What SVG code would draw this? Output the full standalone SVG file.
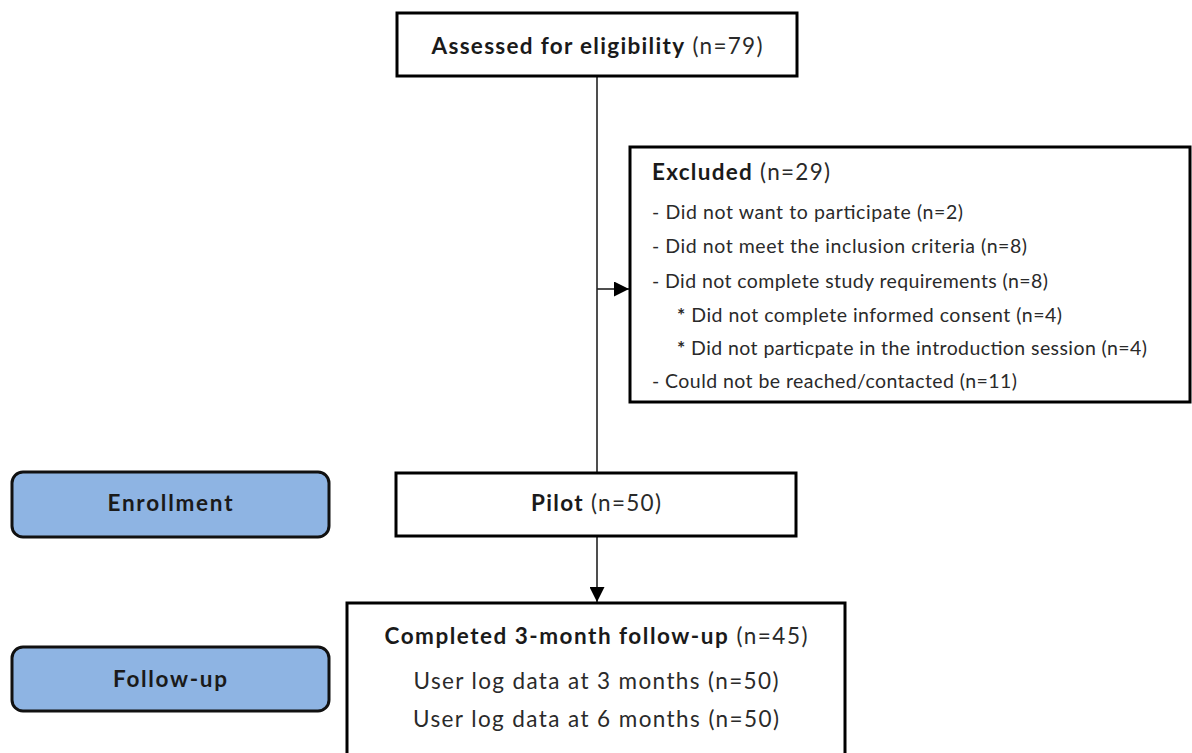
<svg xmlns="http://www.w3.org/2000/svg" width="1192" height="753" viewBox="0 0 1192 753">
<style>
.box{fill:#fff;stroke:#000;stroke-width:3}
.stage{fill:#8eb4e3;stroke:#111;stroke-width:3}
.t{font-family:Lato,"Open Sans","Liberation Sans",sans-serif;fill:#1a1a1a}
.b{font-weight:bold}
.n{fill:#2a2a2a}
.c{text-anchor:middle}
.i{font-size:19.5px}
.conn{stroke:#222;stroke-width:1.6;fill:none}
</style>
<defs>
<marker id="ah2" viewBox="0 0 10 10" refX="10" refY="5" markerWidth="15" markerHeight="15" markerUnits="userSpaceOnUse" orient="auto">
<path d="M0,0 L10,5 L0,10 z" fill="#000"/>
</marker>
</defs>
<g id="connectors">
<line class="conn" x1="597" y1="76" x2="597" y2="473"/>
<line class="conn" x1="597" y1="289" x2="629" y2="289" marker-end="url(#ah2)"/>
<line class="conn" x1="597" y1="536" x2="597" y2="602" marker-end="url(#ah2)"/>
</g>
<g id="assessed">
<rect class="box" x="397" y="13" width="400" height="63"/>
<text class="t c" x="597" y="54" font-size="22.5" textLength="331"><tspan class="b">Assessed for eligibility</tspan> <tspan class="n">(n=79)</tspan></text>
</g>
<g id="excluded">
<rect class="box" x="630" y="147" width="560" height="255"/>
<text class="t" x="652" y="180" font-size="22.5" textLength="178"><tspan class="b">Excluded</tspan> <tspan class="n">(n=29)</tspan></text>
<text class="t n i" x="652" y="219" textLength="311">- Did not want to participate (n=2)</text>
<text class="t n i" x="652" y="253" textLength="375">- Did not meet the inclusion criteria (n=8)</text>
<text class="t n i" x="652" y="288" textLength="396">- Did not complete study requirements (n=8)</text>
<text class="t n i" x="677" y="322" textLength="385"><tspan class="b">*</tspan> Did not complete informed consent (n=4)</text>
<text class="t n i" x="677" y="355" textLength="470"><tspan class="b">*</tspan> Did not particpate in the introduction session (n=4)</text>
<text class="t n i" x="652" y="388" textLength="365">- Could not be reached/contacted (n=11)</text>
</g>
<g id="enrollment">
<rect class="stage" x="12" y="472" width="317" height="65" rx="11"/>
<text class="t b c" x="170" y="511" font-size="22.5" textLength="125">Enrollment</text>
</g>
<g id="pilot">
<rect class="box" x="396" y="473" width="400" height="63"/>
<text class="t c" x="596" y="511" font-size="22.5" textLength="130"><tspan class="b">Pilot</tspan> <tspan class="n">(n=50)</tspan></text>
</g>
<g id="followup">
<rect class="stage" x="12" y="647" width="317" height="64" rx="11"/>
<text class="t b c" x="170" y="687" font-size="22.5" textLength="114">Follow-up</text>
</g>
<g id="completed">
<rect class="box" x="347" y="603" width="498" height="170"/>
<text class="t c" x="596" y="644" font-size="22.5" textLength="423"><tspan class="b">Completed 3-month follow-up</tspan> <tspan class="n">(n=45)</tspan></text>
<text class="t n c" x="596" y="689" font-size="22.5" textLength="365">User log data at 3 months (n=50)</text>
<text class="t n c" x="596" y="727" font-size="22.5" textLength="366">User log data at 6 months (n=50)</text>
</g>
</svg>
